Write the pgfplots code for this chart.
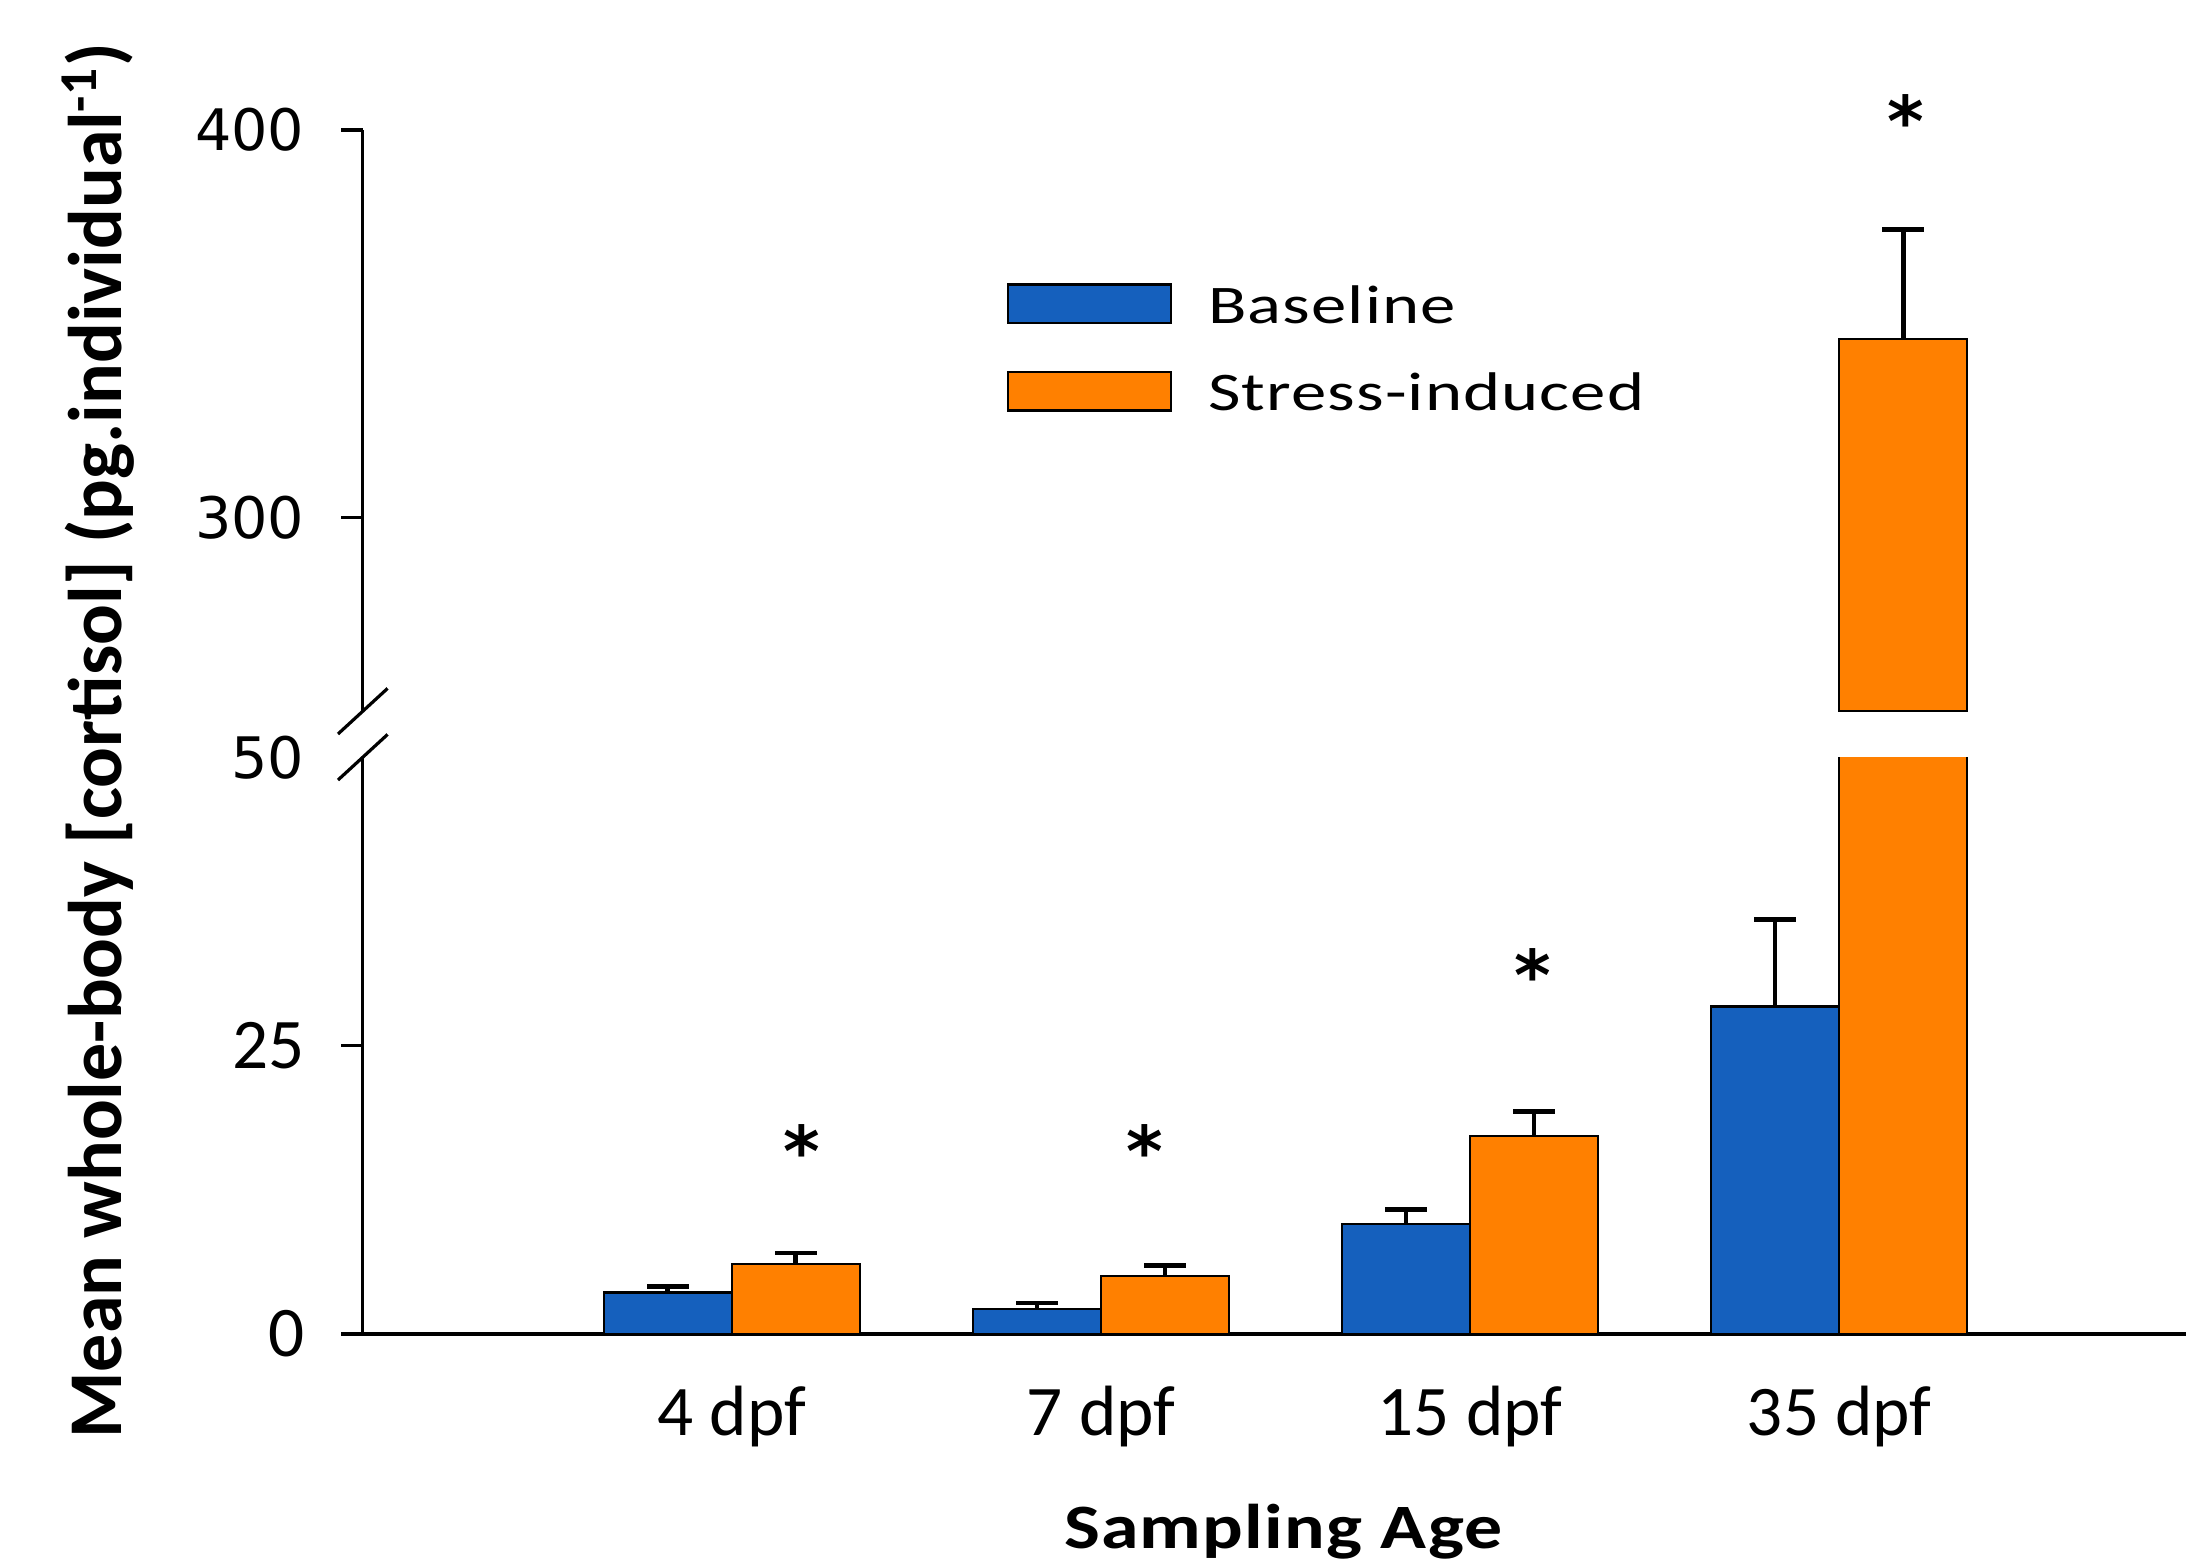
\documentclass[border=0pt]{standalone}
\usepackage{fontspec}
\setmainfont{Carlito}
\newfontfamily\dejavu{DejaVu Sans}
\newfontfamily\legfont[FakeStretch=1.3,LetterSpace=2]{Carlito}
\newfontfamily\xlabfont[FakeStretch=1.2,LetterSpace=2]{Carlito}
\usepackage{pgfplots}
\usepackage{pgfplotstable}
\pgfplotsset{compat=1.18}
\definecolor{bblue}{RGB}{21,96,189}
\definecolor{borange}{RGB}{255,128,0}

\pgfplotstableread{
x y e
1 3.60 0.52
2 2.17 0.52
3 9.56 1.21
4 28.4 7.5
}\basedata
\pgfplotstableread{
x y e
1 6.07 0.95
2 5.05 0.90
3 17.19 2.10
4 346.1 28.2
}\stressdata

\pgfplotsset{
  brk/.style={
    width=455.8pt, scale only axis, xmin=0, xmax=4.94,
    axis y line*=left,
    axis line style={line width=0.8pt, black},
    ytick align=outside, major tick length=5.4pt,
    ytick style={line width=0.8pt, black},
    yticklabel style={anchor=east, inner sep=0pt, xshift=-9pt},
    clip mode=individual,
  },
  mybar/.style={
    ybar, bar width=0.347, bar shift=0pt, draw=black, line width=0.6pt,
    error bars/y dir=plus, error bars/y explicit,
    error bars/error mark=|,
    error bars/error bar style={line width=1.2pt, black},
    error bars/error mark options={line width=1.2pt, mark size=5.2pt, black},
  },
  legimg/.style={legend image code/.code={\draw[##1, line width=0.6pt] (0pt,-3.9pt) rectangle (40.8pt,5.7pt);}},
}

\newcommand{\tfont}{\dejavu\fontsize{14.3}{16}\selectfont}
\newcommand{\cfont}{\fontsize{17.8}{20}\selectfont}
\newcommand{\sfont}{\dejavu\bfseries\fontsize{17.5}{20}\selectfont}

\begin{document}
\begin{tikzpicture}
% lower axis
\begin{axis}[brk, name=lower, at={(0,0)}, anchor=south west,
  height=144.2pt, ymin=0, ymax=50,
  axis x line*=bottom,
  xtick={1,2,3,4}, xticklabels={4 dpf,7 dpf,15 dpf,35 dpf},
  xtick style={draw=none},
  xticklabel style={anchor=base, inner sep=0pt, yshift=-25.25pt, font=\cfont},
  ytick={0,25}, yticklabels={{\cfont 0},{\cfont 25}},
  extra y ticks={50}, extra y tick labels={{\tfont 50}},
  extra y tick style={major tick length=0pt, yticklabel style={xshift=-5.4pt}},
  xlabel={Sampling Age},
  xlabel style={at={(axis description cs:0.5049,0)}, anchor=base, inner sep=0pt, yshift=-53.6pt, font=\xlabfont\bfseries\fontsize{15.8}{18}\selectfont},
  ylabel={Mean whole-body [cortisol] (pg.individual\textsuperscript{-1})},
  ylabel style={at={(axis description cs:-0.1323,1.0284)}, anchor=base, inner sep=0pt, font=\bfseries\fontsize{19}{22}\selectfont},
]
\addplot[mybar, fill=bblue] table[x expr=\thisrow{x}-0.1735, y=y, y error=e] {\basedata};
\addplot[mybar, fill=borange] table[x expr=\thisrow{x}+0.1735, y=y, y error=e] {\stressdata};
\node[font=\sfont, yshift=-1.2pt] at (axis cs:1.19,16.3) {*};
\node[font=\sfont, yshift=-1.2pt] at (axis cs:2.12,16.3) {*};
\node[font=\sfont, yshift=-1.2pt] at (axis cs:3.17,31.6) {*};
\end{axis}
% upper axis
\begin{axis}[brk, name=upper, at={(0,155.7pt)}, anchor=south west,
  height=145.3pt, ymin=250, ymax=400,
  axis x line=none,
  ytick={300,400}, yticklabels={{\tfont 300},{\tfont 400}},
  legend style={at={(axis description cs:0.3532,0.7364)}, anchor=north west,
    draw=none, fill=none, inner sep=0pt, outer sep=0pt,
    font=\legfont\fontsize{13.6}{16}\selectfont, row sep=10.5pt,
    nodes={inner sep=0pt, outer sep=0pt},
    /tikz/every odd column/.append style={column sep=9pt}},
  legend cell align=left,
]
\addlegendimage{mybar, fill=bblue, legimg}
\addlegendentry{Baseline}
\addplot[mybar, fill=borange, legimg, restrict y to domain=250:500] table[x expr=\thisrow{x}+0.1735, y=y, y error=e] {\stressdata};
\addlegendentry{Stress-induced}
\node[font=\sfont, yshift=-1.2pt] at (axis cs:4.18,403.7) {*};
\end{axis}
% axis break marks
\draw[line width=0.8pt] ([shift={(-6.2pt,-5.7pt)}]lower.north west) -- ++(12.4pt,11.4pt);
\draw[line width=0.8pt] ([shift={(-6.2pt,-5.7pt)}]upper.south west) -- ++(12.4pt,11.4pt);
\pgfresetboundingbox
\path[use as bounding box] (-90.7pt,-58pt) rectangle (455.8pt,333.5pt);
\end{tikzpicture}
\end{document}
